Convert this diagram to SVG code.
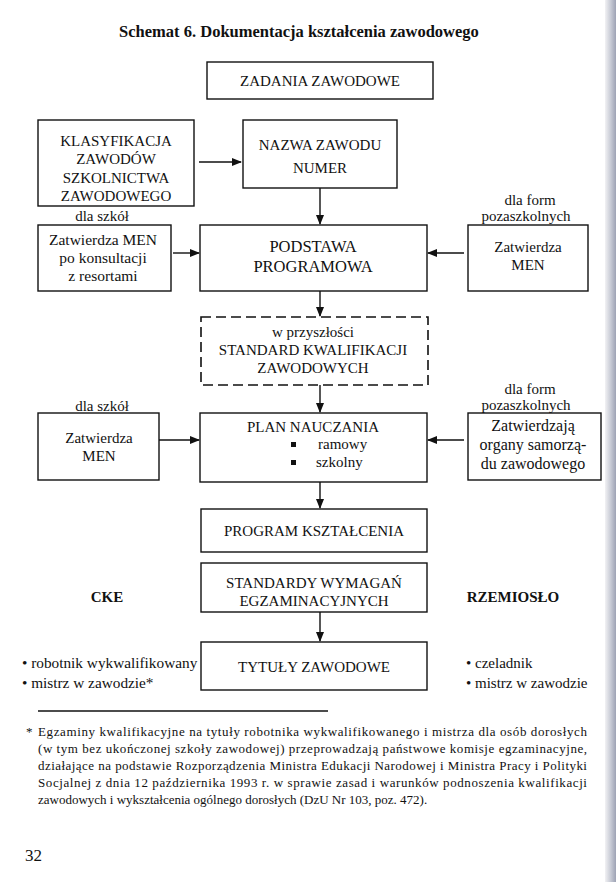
<svg xmlns="http://www.w3.org/2000/svg" width="616" height="882" viewBox="0 0 616 882">
<defs>
<marker id="ah" markerWidth="10" markerHeight="8" refX="9" refY="4" orient="auto" markerUnits="userSpaceOnUse">
<path d="M0,0 L10,4 L0,8 Z" fill="#111"/>
</marker>
<linearGradient id="edge" x1="0" y1="0" x2="1" y2="0">
<stop offset="0" stop-color="#f2f2f4"/>
<stop offset="0.5" stop-color="#c9ccd6"/>
<stop offset="1" stop-color="#9da2b4"/>
</linearGradient>
<style>
text{font-family:'Liberation Serif','DejaVu Serif',serif;fill:#111}
.box{fill:#fff;stroke:#111;stroke-width:1.4}
.dash{fill:#fff;stroke:#111;stroke-width:1.6;stroke-dasharray:10 5}
.t{font-size:15px;text-anchor:middle}
.l{font-size:15px}
.b{font-size:15px;font-weight:bold;text-anchor:middle}
.f{font-size:13px}
.c{stroke:#111;stroke-width:1.4;fill:none;marker-end:url(#ah)}
</style>
</defs>
<rect x="0" y="0" width="616" height="882" fill="#fff"/>
<rect x="605" y="0" width="11" height="882" fill="url(#edge)"/>

<text class="b" x="299" y="37" style="font-size:16.5px">Schemat 6. Dokumentacja kształcenia zawodowego</text>

<g id="zadania">
<rect class="box" x="207" y="62" width="226" height="37"/>
<text class="t" x="320" y="86">ZADANIA ZAWODOWE</text>
</g>

<g id="klasyfikacja">
<rect class="box" x="38" y="120" width="156" height="86"/>
<text class="t" x="116" y="146">KLASYFIKACJA</text>
<text class="t" x="116" y="164">ZAWODÓW</text>
<text class="t" x="116" y="183">SZKOLNICTWA</text>
<text class="t" x="116" y="201">ZAWODOWEGO</text>
</g>

<g id="nazwa">
<rect class="box" x="243" y="120" width="154" height="68"/>
<text class="t" x="320" y="150">NAZWA ZAWODU</text>
<text class="t" x="320" y="173">NUMER</text>
</g>

<g id="men1">
<text class="t" x="102" y="221">dla szkół</text>
<rect class="box" x="38" y="225" width="133" height="66"/>
<text class="t" x="103" y="245" style="font-size:15.5px">Zatwierdza MEN</text>
<text class="t" x="103" y="263" style="font-size:15.5px">po konsultacji</text>
<text class="t" x="103" y="281" style="font-size:15.5px">z resortami</text>
</g>

<g id="podstawa">
<rect class="box" x="200" y="225" width="227" height="66"/>
<text class="t" x="313" y="252" style="font-size:16.5px">PODSTAWA</text>
<text class="t" x="313" y="272" style="font-size:16.5px">PROGRAMOWA</text>
</g>

<g id="men2">
<text class="t" x="530" y="205">dla form</text>
<text class="t" x="526" y="221">pozaszkolnych</text>
<rect class="box" x="468" y="225" width="120" height="66"/>
<text class="t" x="528" y="252">Zatwierdza</text>
<text class="t" x="528" y="270">MEN</text>
</g>

<g id="standard">
<rect class="dash" x="201" y="317" width="227" height="68"/>
<text class="t" x="313" y="337">w przyszłości</text>
<text class="t" x="313" y="355">STANDARD KWALIFIKACJI</text>
<text class="t" x="313" y="373">ZAWODOWYCH</text>
</g>

<g id="men3">
<text class="t" x="102" y="411">dla szkół</text>
<rect class="box" x="38" y="413" width="121" height="67"/>
<text class="t" x="99" y="443">Zatwierdza</text>
<text class="t" x="99" y="461">MEN</text>
</g>

<g id="plan">
<rect class="box" x="200" y="413" width="227" height="69"/>
<text class="t" x="313" y="432">PLAN NAUCZANIA</text>
<rect x="291" y="442" width="5" height="5" fill="#111"/>
<text class="l" x="318" y="449">ramowy</text>
<rect x="291" y="460" width="5" height="5" fill="#111"/>
<text class="l" x="316" y="467">szkolny</text>
</g>

<g id="organy">
<text class="t" x="530" y="394">dla form</text>
<text class="t" x="526" y="410">pozaszkolnych</text>
<rect class="box" x="468" y="413" width="133" height="67"/>
<text class="t" x="533" y="431" style="font-size:16px">Zatwierdzają</text>
<text class="t" x="533" y="450" style="font-size:16px">organy samorzą-</text>
<text class="t" x="533" y="469" style="font-size:16px">du zawodowego</text>
</g>

<g id="program">
<rect class="box" x="201" y="509" width="226" height="43"/>
<text class="t" x="314" y="536">PROGRAM KSZTAŁCENIA</text>
</g>

<g id="standardy">
<rect class="box" x="201" y="563" width="226" height="49"/>
<text class="t" x="314" y="588">STANDARDY WYMAGAŃ</text>
<text class="t" x="314" y="606">EGZAMINACYJNYCH</text>
</g>

<g id="tytuly">
<rect class="box" x="201" y="642" width="226" height="48"/>
<text class="t" x="314" y="672">TYTUŁY ZAWODOWE</text>
</g>

<g id="cke">
<text class="b" x="107" y="602">CKE</text>
<text class="l" x="22" y="668" style="font-size:15.3px">• robotnik wykwalifikowany</text>
<text class="l" x="22" y="688" style="font-size:15.3px">• mistrz w zawodzie*</text>
</g>

<g id="rzemioslo">
<text class="b" x="513" y="602">RZEMIOSŁO</text>
<text class="l" x="466" y="668">• czeladnik</text>
<text class="l" x="466" y="688">• mistrz w zawodzie</text>
</g>

<g id="connectors">
<line class="c" x1="199" y1="162" x2="241" y2="162"/>
<line class="c" x1="320" y1="188" x2="320" y2="224"/>
<line class="c" x1="173" y1="253" x2="199" y2="253"/>
<line class="c" x1="464" y1="253" x2="428" y2="253"/>
<line class="c" x1="320" y1="291" x2="320" y2="316"/>
<line class="c" x1="320" y1="385" x2="320" y2="412"/>
<line class="c" x1="159" y1="440" x2="199" y2="440"/>
<line class="c" x1="464" y1="440" x2="428" y2="440"/>
<line class="c" x1="320" y1="482" x2="320" y2="508"/>
<line class="c" x1="320" y1="612" x2="320" y2="641"/>
</g>

<g id="footnote">
<line x1="38" y1="711" x2="328" y2="711" stroke="#111" stroke-width="1.3"/>
<text class="f" x="26" y="736">*</text>
<text class="f" x="38" y="736" textLength="549" lengthAdjust="spacing">Egzaminy kwalifikacyjne na tytuły robotnika wykwalifikowanego i mistrza dla osób dorosłych</text>
<text class="f" x="38" y="753" textLength="549" lengthAdjust="spacing">(w tym bez ukończonej szkoły zawodowej) przeprowadzają państwowe komisje egzaminacyjne,</text>
<text class="f" x="38" y="770" textLength="549" lengthAdjust="spacing">działające na podstawie Rozporządzenia Ministra Edukacji Narodowej i Ministra Pracy i Polityki</text>
<text class="f" x="38" y="787" textLength="549" lengthAdjust="spacing">Socjalnej z dnia 12 października 1993 r. w sprawie zasad i warunków podnoszenia kwalifikacji</text>
<text class="f" x="38" y="804">zawodowych i wykształcenia ogólnego dorosłych (DzU Nr 103, poz. 472).</text>
</g>

<text class="l" x="25" y="861" style="font-size:17px">32</text>
</svg>
